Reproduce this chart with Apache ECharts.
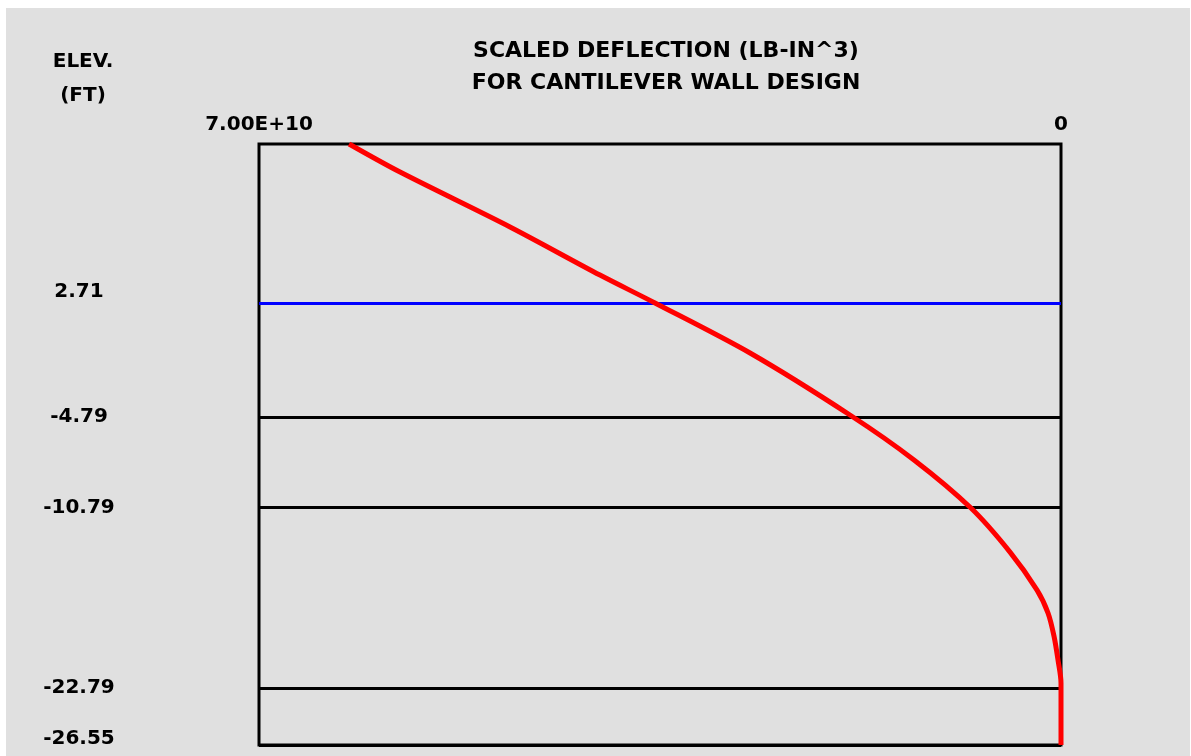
<!DOCTYPE html>
<html>
<head>
<meta charset="utf-8">
<script src="https://cdn.jsdelivr.net/npm/echarts@6/dist/echarts.min.js"></script>
<style>
  html, body { margin: 0; padding: 0; background: #ffffff; }
  #chart { position: absolute; left: 6px; top: 8px; width: 1184px; height: 748px; background: #e0e0e0; }
</style>
</head>
<body>
<div id="chart"></div>
<script>
// Scaled deflection profile along the wall (lb-in^3) versus elevation (ft)
const deflection = [6.214e10, 5.769e10, 4.809e10, 4.024e10, 3.544e10, 2.714e10, 1.842e10, 1.283e10,
                    0.786e10, 0.445e10, 0.209e10, 0.113e10, 0.061e10, 0.026e10, 0, 0];
const elevation  = [13.3, 11.44, 7.80, 4.61, 2.76, -0.56, -4.67, -7.65,
                    -10.84, -13.76, -16.28, -17.80, -19.33, -20.92, -22.44, -26.55];

// Elevation marks drawn across the wall and labelled on the left
const levelElev = [2.71, -4.79, -10.79, -22.79, -26.55];
const levelColor = ['#0000ff', '#000000', '#000000', '#000000', '#000000'];

// Deflection axis end labels
const xTicks = [70000000000, 0];
const xTickText = ['7.00E+10', '0'];

const topElev = 13.3;

const FONT = 'DejaVu Sans';

// vertical nudge (px) for a couple of elevation labels
const labelLift = { '2.71': 24, '-26.55': 12 };

const chart = echarts.init(document.getElementById('chart'), null, { renderer: 'canvas' });

const points = deflection.map((d, i) => [d, elevation[i]]);

const rich = {};
Object.keys(labelLift).forEach((k, i) => {
  rich['l' + i] = { padding: [0, 0, labelLift[k], 0], fontFamily: FONT, fontWeight: 'bold', fontSize: 20, color: '#000' };
});

chart.setOption({
  backgroundColor: '#e0e0e0',
  animation: false,
  title: [
    {
      text: 'SCALED DEFLECTION (LB-IN^3)\nFOR CANTILEVER WALL DESIGN',
      left: 655, top: 22, textAlign: 'center',
      textStyle: { fontFamily: FONT, fontWeight: 'bold', fontSize: 22, color: '#000', lineHeight: 32 }
    },
    {
      text: 'ELEV.\n(FT)',
      left: 72, top: 32, textAlign: 'center',
      textStyle: { fontFamily: FONT, fontWeight: 'bold', fontSize: 20, color: '#000', lineHeight: 34 }
    }
  ],
  grid: {
    left: 253, right: 129, top: 136, bottom: 11,
    show: true, borderColor: '#000', borderWidth: 3, backgroundColor: 'transparent'
  },
  xAxis: {
    type: 'value', position: 'top', inverse: true,
    min: 0, max: 70000000000,
    axisLine: { show: false }, axisTick: { show: false }, splitLine: { show: false },
    axisLabel: {
      customValues: xTicks,
      margin: 9,
      fontFamily: FONT, fontWeight: 'bold', fontSize: 20, color: '#000',
      formatter: v => xTickText[xTicks.indexOf(v)]
    }
  },
  yAxis: {
    type: 'value', min: -26.55, max: topElev,
    axisLine: { show: false }, axisTick: { show: false }, splitLine: { show: false },
    axisLabel: {
      customValues: levelElev,
      margin: 180, align: 'center',
      fontFamily: FONT, fontWeight: 'bold', fontSize: 20, color: '#000',
      rich: rich,
      formatter: v => {
        const s = v.toFixed(2);
        const idx = Object.keys(labelLift).indexOf(s);
        return idx >= 0 ? '{l' + idx + '|' + s + '}' : s;
      }
    }
  },
  series: [
    {
      type: 'line',
      data: points,
      showSymbol: false,
      smooth: 0.3,
      lineStyle: { color: '#ff0000', width: 5 },
      z: 5,
      markLine: {
        silent: true, symbol: 'none', label: { show: false },
        data: levelElev.map((y, i) => ({ yAxis: y, lineStyle: { color: levelColor[i], width: 3, type: 'solid' } }))
      }
    }
  ]
});
</script>
</body>
</html>
